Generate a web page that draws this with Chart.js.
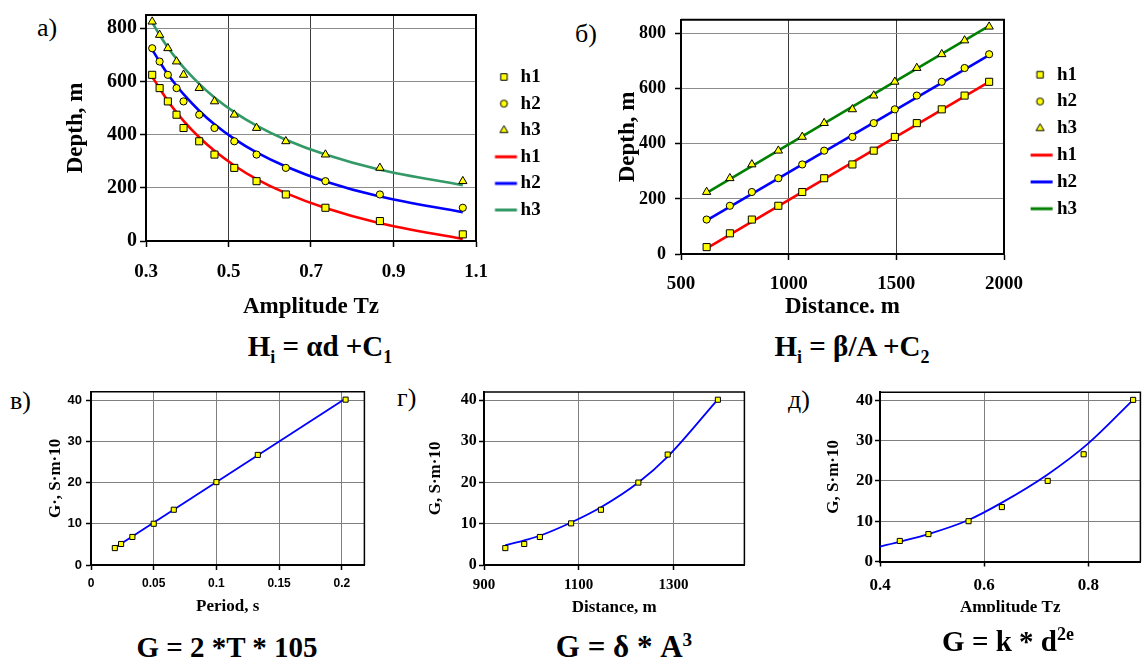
<!DOCTYPE html>
<html lang="ru">
<head>
<meta charset="UTF-8">
<title>Depth and conductance</title>
<script src="https://cdn.jsdelivr.net/npm/chart.js@4.4.1/dist/chart.umd.min.js"></script>
<style>
  html, body { margin: 0; padding: 0; background: #fff; overflow: hidden; }
  body { width: 1142px; height: 659px; position: relative;
         font-family: "Liberation Serif", Tinos, "Times New Roman", "DejaVu Serif", serif; }
  .box { position: absolute; }
  .lbl { position: absolute; font-size: 26px; line-height: 1; }
  .f { position: absolute; font-weight: bold; font-size: 29px; line-height: 1; white-space: nowrap;
       transform: translateX(-50%); background: #fff; }
  .f sub, .f sup { font-size: 0.62em; line-height: 0; }
</style>
</head>
<body>

<div class="box" id="boxA" style="left:62px;top:0;width:484px;height:321px"><canvas id="chartA"></canvas></div>
<div class="box" id="boxB" style="left:614px;top:0;width:470px;height:321px"><canvas id="chartB"></canvas></div>
<div class="box" id="boxV" style="left:45px;top:380px;width:324px;height:237px"><canvas id="chartV"></canvas></div>
<div class="box" id="boxG" style="left:425px;top:380px;width:324px;height:238px"><canvas id="chartG"></canvas></div>
<div class="box" id="boxD" style="left:823px;top:380px;width:322px;height:238px"><canvas id="chartD"></canvas></div>

<div class="lbl" style="left:37px;top:15px">а)</div>
<div class="lbl" style="left:575px;top:21px">б)</div>
<div class="lbl" style="left:10px;top:388px">в)</div>
<div class="lbl" style="left:397px;top:385px">г)</div>
<div class="lbl" style="left:788px;top:387px">д)</div>

<div class="f" style="left:320px;top:332px">H<sub>i</sub> = αd +C<sub>1</sub></div>
<div class="f" style="left:852px;top:332px">H<sub>i</sub> = β/A +C<sub>2</sub></div>
<div class="f" style="left:227px;top:633px">G = 2 *T * 105</div>
<div class="f" style="left:624px;top:631px;font-size:31px">G = δ * A<sup>3</sup></div>
<div class="f" style="left:1008px;top:612px;padding-top:15px">G = k * d<sup>2e</sup></div>

<script>
// panel а / б : one row per observation (amplitude, distance, depth)
const ampA  = [0.315, 0.333, 0.353, 0.374, 0.391, 0.429, 0.466, 0.514, 0.568, 0.639, 0.735, 0.867, 1.068];
const distB = [1931, 1817, 1711, 1595, 1493, 1395, 1296, 1165, 1063, 952, 829, 727, 619];
const h1 = [625, 575, 525, 475, 425, 375, 325, 275, 225, 175, 125, 75, 25];
const h2 = [725, 675, 625, 575, 525, 475, 425, 375, 325, 275, 225, 175, 125];
const h3 = [825, 775, 725, 675, 625, 575, 525, 475, 425, 375, 325, 275, 225];
// fitted curves of panel а (read at the same amplitudes)
const fitA1 = [618, 574, 527, 484, 452, 390, 339, 284, 233, 180, 124, 67, 8];
const fitA2 = [720, 674, 627, 584, 552, 490, 439, 384, 333, 280, 224, 167, 108];
const fitA3 = [822, 775, 728, 685, 653, 591, 540, 485, 434, 381, 325, 268, 210];
// fitted straight lines of panel б (end points)
const fitBx = [619, 1931];
const fitB1 = [20, 625];
const fitB2 = [122, 722];
const fitB3 = [222, 828];

// panel в
const periodV = [0.019, 0.024, 0.033, 0.05, 0.066, 0.1, 0.133, 0.203];
const gV      = [4.1, 5.1, 6.8, 10, 13.4, 20.1, 26.7, 40.1];
const fitVx = [0.019, 0.203];
const fitVy = [4.2, 40.4];
// panel г
const distG = [945, 985, 1018, 1084, 1147, 1226, 1288, 1394];
const gG    = [4.1, 5.1, 6.8, 10.1, 13.4, 20, 26.8, 40.1];
const fitG  = [4.8, 6.0, 7.1, 10.3, 14.0, 20.0, 26.3, 40.2];
const ticksG = [900, 1100, 1300];
// panel д
const ampD  = [0.438, 0.493, 0.570, 0.634, 0.722, 0.791, 0.886];
const gD    = [5.1, 6.8, 10.0, 13.5, 20.0, 26.6, 40.1];
const fitDx = [0.4, 0.438, 0.493, 0.570, 0.634, 0.722, 0.8, 0.886];
const fitDy = [3.7, 4.9, 6.8, 10.3, 14.6, 21.6, 29.3, 40.1];

const serif = '"Liberation Serif", Tinos, "Times New Roman", "DejaVu Serif", serif';
const sans = '"Liberation Sans", Arimo, Arial, sans-serif';
Chart.defaults.animation = false;
Chart.defaults.font.family = serif;
Chart.defaults.color = '#000';

function pts(xs, ys) {
    return xs.map((x, i) => ({ x: x, y: ys[i] }));
}

function tickCb(v) {
    return String(Math.round(v * 1000) / 1000);
}

// little pictures for the legend, drawn off-centre so the marker sits where it does in the picture
function markIcon(style, r, shift) {
    const c = document.createElement('canvas');
    c.width = 64; c.height = 14;
    const g = c.getContext('2d');
    g.fillStyle = '#ffff00';
    g.strokeStyle = '#000';
    g.lineWidth = 1;
    Chart.helpers.drawPoint(g, { pointStyle: style, radius: r, borderWidth: 1, rotation: 0 }, 32 + shift, 7);
    return c;
}
function lineIcon(color, shift) {
    const c = document.createElement('canvas');
    c.width = 64; c.height = 14;
    const g = c.getContext('2d');
    g.strokeStyle = color;
    g.lineWidth = 3;
    g.beginPath();
    g.moveTo(32 + shift - 11, 7);
    g.lineTo(32 + shift + 11, 7);
    g.stroke();
    return c;
}
function iconLabels(chart) {
    const items = Chart.defaults.plugins.legend.labels.generateLabels(chart);
    items.forEach(it => { it.pointStyle = chart.data.datasets[it.datasetIndex].icon; });
    return items;
}

function marks(label, xs, ys, style, r, icon) {
    return {
        label: label, data: pts(xs, ys), showLine: false,
        pointStyle: style, pointRadius: r, pointHoverRadius: r,
        backgroundColor: '#ffff00', borderColor: '#000', borderWidth: 1, icon: icon
    };
}
function curve(label, xs, ys, color, w, smooth, icon) {
    return {
        label: label, data: pts(xs, ys), showLine: true,
        borderColor: color, backgroundColor: color, borderWidth: w,
        pointRadius: 0, pointHoverRadius: 0,
        cubicInterpolationMode: smooth ? 'monotone' : 'default', icon: icon
    };
}

function axis(o) {
    const a = {
        type: 'linear', min: o.min, max: o.max,
        afterFit: s => { if (o.horiz) s.height = o.size; else s.width = o.size; },
        border: { color: '#000', width: o.bw },
        grid: { color: o.grid, lineWidth: 1, tickColor: '#000', tickLength: o.tl, tickWidth: 1.5 },
        ticks: { stepSize: o.step, includeBounds: false, color: '#000', padding: o.pad,
                 font: o.font, callback: tickCb, maxRotation: 0, autoSkip: false },
        title: { display: true, text: o.title, color: '#000', font: o.tfont, padding: { top: 0, bottom: 0 } }
    };
    if (o.ticks) {
        a.afterBuildTicks = s => { s.ticks = o.ticks.map(v => ({ value: v })); };
    }
    return a;
}

// top and right edges of the plot area
const frame = {
    id: 'frame',
    beforeDatasetsDraw(chart, args, opts) {
        const { ctx, chartArea: a } = chart;
        ctx.save();
        ctx.strokeStyle = '#000';
        ctx.lineWidth = opts.width;
        ctx.beginPath();
        ctx.moveTo(a.left, a.top);
        ctx.lineTo(a.right, a.top);
        ctx.lineTo(a.right, a.bottom);
        ctx.stroke();
        ctx.restore();
    }
};

const bigTick = { family: serif, size: 19, weight: 'bold' };
const bigTitle = { family: serif, size: 23, weight: 'bold', lineHeight: 1.2 };
const smallTitle = { family: serif, size: 17, weight: 'bold', lineHeight: 1.2 };
const legendFont = { family: serif, size: 19, weight: 'bold' };

// а) depth vs amplitude
new Chart(document.getElementById('chartA'), {
    type: 'scatter',
    data: {
        datasets: [
            marks('h1', ampA, h1, 'rect', 5, markIcon('rect', 4.6, 6.6)),
            marks('h2', ampA, h2, 'circle', 3.6, markIcon('circle', 3.5, 6.6)),
            marks('h3', ampA, h3, 'triangle', 4.8, markIcon('triangle', 4.6, 6.6)),
            curve('h1', ampA, fitA1, '#ff0000', 2.6, true, lineIcon('#ff0000', 8.6)),
            curve('h2', ampA, fitA2, '#0000ff', 2.6, true, lineIcon('#0000ff', 8.6)),
            curve('h3', ampA, fitA3, '#339966', 2.6, true, lineIcon('#339966', 8.6))
        ]
    },
    options: {
        responsive: true, maintainAspectRatio: false, events: [],
        layout: { padding: { top: 13, left: 0, right: 0, bottom: 0 } },
        scales: {
            x: axis({ horiz: true, size: 80, min: 0.3, max: 1.1, step: 0.2, bw: 2, grid: '#3c3c3c',
                      tl: 6, pad: 13.6, font: bigTick, title: 'Amplitude Tz', tfont: bigTitle }),
            y: axis({ size: 84, min: 0, max: 850, step: 200, bw: 2, grid: '#8c8c8c',
                      tl: 6, pad: 3, font: { family: serif, size: 20, weight: 'bold' },
                      title: 'Depth, m', tfont: bigTitle })
        },
        plugins: {
            frame: { width: 2 },
            tooltip: { enabled: false },
            legend: {
                position: 'right', align: 'center', fullSize: false, maxWidth: 70,
                title: { display: true, text: ' ', padding: 0, font: { size: 31, lineHeight: 1 } },
                labels: { usePointStyle: true, pointStyleWidth: 27.5, padding: 7.6, color: '#000',
                          font: legendFont, generateLabels: iconLabels }
            }
        }
    },
    plugins: [frame]
});

// б) depth vs distance
new Chart(document.getElementById('chartB'), {
    type: 'scatter',
    data: {
        datasets: [
            marks('h1', distB, h1, 'rect', 5, markIcon('rect', 4.6, 10.4)),
            marks('h2', distB, h2, 'circle', 3.6, markIcon('circle', 3.5, 10.4)),
            marks('h3', distB, h3, 'triangle', 4.8, markIcon('triangle', 4.6, 10.4)),
            curve('h1', fitBx, fitB1, '#ff0000', 2.6, false, lineIcon('#ff0000', 11.9)),
            curve('h2', fitBx, fitB2, '#0000ff', 2.6, false, lineIcon('#0000ff', 11.9)),
            curve('h3', fitBx, fitB3, '#008000', 2.6, false, lineIcon('#008000', 11.9))
        ]
    },
    options: {
        responsive: true, maintainAspectRatio: false, events: [],
        layout: { padding: { top: 17, left: 0, right: 0, bottom: 0 } },
        scales: {
            x: axis({ horiz: true, size: 67, min: 500, max: 2000, step: 500, bw: 2, grid: '#3c3c3c',
                      tl: 6, pad: 12.6, font: bigTick, title: 'Distance. m', tfont: bigTitle }),
            y: axis({ size: 67, min: 0, max: 850, step: 200, bw: 2, grid: '#8c8c8c',
                      tl: 6, pad: 9, font: { family: serif, size: 18, weight: 'bold' },
                      title: 'Depth, m', tfont: bigTitle })
        },
        plugins: {
            frame: { width: 2 },
            tooltip: { enabled: false },
            legend: {
                position: 'right', align: 'center', fullSize: false, maxWidth: 80,
                title: { display: true, text: ' ', padding: 0, font: { size: 9.6, lineHeight: 1 } },
                labels: { usePointStyle: true, pointStyleWidth: 35.7, padding: 7.8, color: '#000',
                          font: legendFont, generateLabels: iconLabels }
            }
        }
    },
    plugins: [frame]
});

function small(id, o) {
    new Chart(document.getElementById(id), {
        type: 'scatter',
        data: { datasets: o.datasets },
        options: {
            responsive: true, maintainAspectRatio: false, events: [],
            layout: { padding: { top: o.top, left: 0, right: 0, bottom: 0 } },
            scales: {
                x: axis({ horiz: true, size: o.xh, min: o.xmin, max: o.xmax, step: o.xstep, ticks: o.xticks,
                          bw: 2, grid: '#7f7f7f', tl: 5, pad: o.xpad, font: o.xfont, title: o.xtitle, tfont: smallTitle }),
                y: axis({ size: o.yw, min: 0, max: 42, step: 10, bw: 2, grid: '#7f7f7f',
                          tl: 5, pad: o.ypad, font: o.yfont, title: o.ytitle, tfont: smallTitle })
            },
            plugins: { frame: { width: 1.5 }, tooltip: { enabled: false }, legend: { display: false } }
        },
        plugins: [frame]
    });
}

// в) conductance vs period
small('chartV', {
    datasets: [
        marks('G', periodV, gV, 'rect', 3.6),
        curve('fit', fitVx, fitVy, '#0000ff', 1.8, false)
    ],
    top: 9, xh: 52, yw: 46, xmin: 0, xmax: 0.218, xstep: 0.05, xpad: 6.1, ypad: 4,
    xfont: { family: sans, size: 12, weight: 'bold' }, yfont: { family: sans, size: 13, weight: 'bold' },
    xtitle: 'Period, s', ytitle: 'G·, S·m·10'
});

// г) conductance vs distance
small('chartG', {
    datasets: [
        marks('G', distG, gG, 'rect', 3.6),
        curve('fit', distG, fitG, '#0000ff', 1.8, true)
    ],
    top: 6, xh: 53, yw: 59, xmin: 900, xmax: 1450, xstep: 200, xticks: ticksG, xpad: 6.3, ypad: 2.3,
    xfont: { family: serif, size: 15, weight: 'bold' }, yfont: { family: serif, size: 16, weight: 'bold' },
    xtitle: 'Distance, m', ytitle: 'G, S·m·10'
});

// д) conductance vs amplitude
small('chartD', {
    datasets: [
        marks('G', ampD, gD, 'rect', 3.6),
        curve('fit', fitDx, fitDy, '#0000ff', 1.8, true)
    ],
    top: 7.3, xh: 56.5, yw: 57, xmin: 0.4, xmax: 0.9, xstep: 0.2, xpad: 8.5, ypad: 2,
    xfont: { family: serif, size: 17, weight: 'bold' }, yfont: { family: serif, size: 17, weight: 'bold' },
    xtitle: 'Amplitude Tz', ytitle: 'G, S·m·10'
});
</script>
</body>
</html>
